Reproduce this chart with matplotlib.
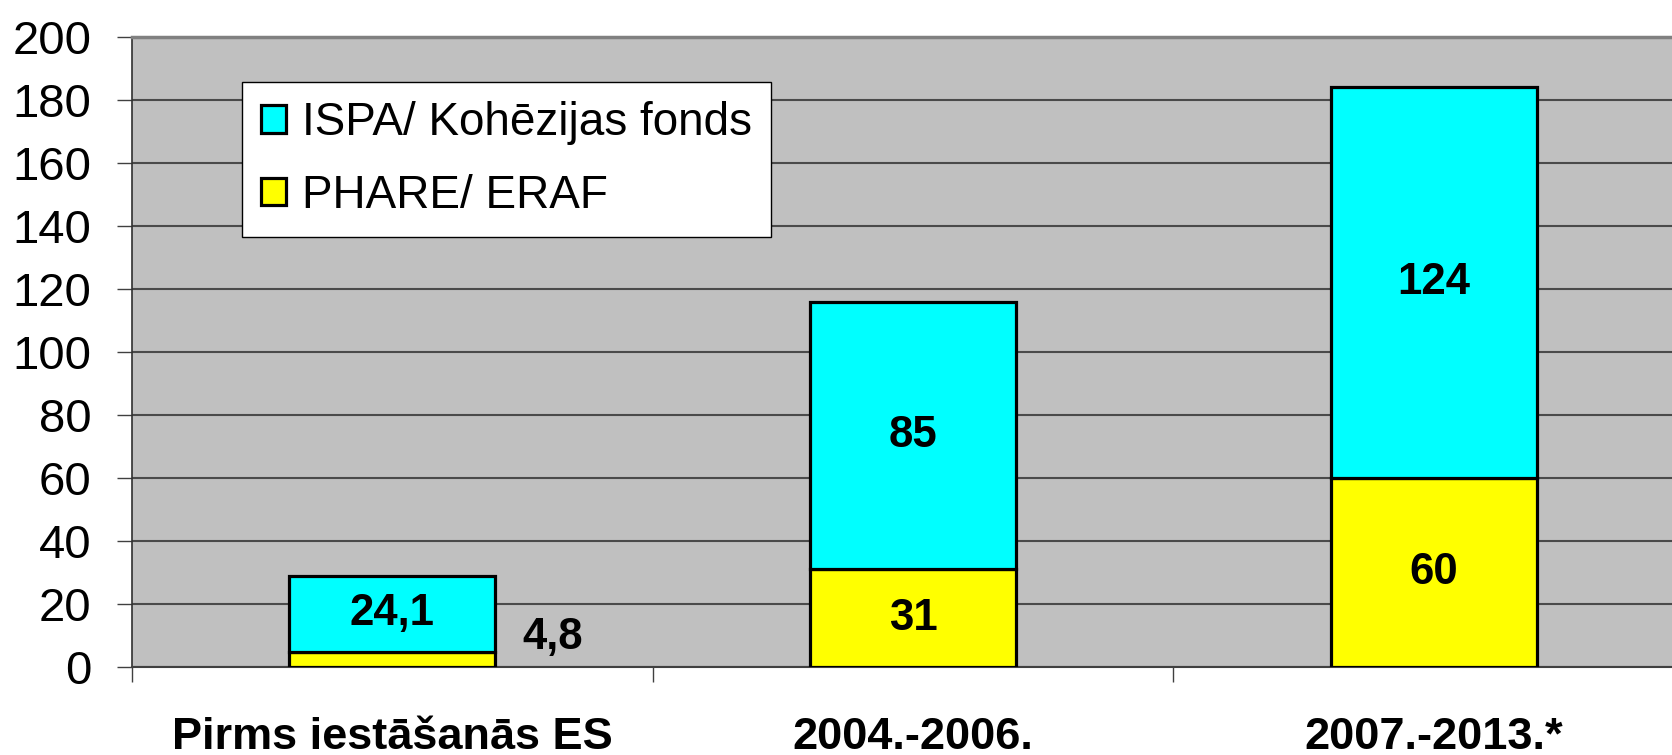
import matplotlib.pyplot as plt
import numpy as np

categories = ["Pirms iestāšanās ES", "2004.-2006.", "2007.-2013.*"]
phare_erf = [4.8, 31, 60]
ispa_kf = [24.1, 85, 124]
phare_labels = ["4,8", "31", "60"]
ispa_labels = ["24,1", "85", "124"]

plt.rcParams['font.family'] = ['Liberation Sans', 'DejaVu Sans']

fig = plt.figure(figsize=(16.72, 7.55), dpi=100)
ax = fig.add_axes([132 / 1672, 88 / 755, 1562 / 1672, 630 / 755])
ax.set_facecolor('#c0c0c0')

x = np.arange(len(categories))
w = 0.396
b1 = ax.bar(x, phare_erf, w, color='#ffff00', edgecolor='black', linewidth=2.3,
            label='PHARE/ ERAF', zorder=3)
b2 = ax.bar(x, ispa_kf, w, bottom=phare_erf, color='#00ffff', edgecolor='black',
            linewidth=2.3, label='ISPA/ Kohēzijas fonds', zorder=3)

# value labels
for i in range(len(categories)):
    ax.text(x[i], phare_erf[i] + ispa_kf[i] / 2, ispa_labels[i], ha='center', va='center',
            fontsize=31.5, fontweight='bold', zorder=4)
    if phare_erf[i] > 15:
        ax.text(x[i], phare_erf[i] / 2, phare_labels[i], ha='center', va='center',
                fontsize=31.5, fontweight='bold', zorder=4)
    else:
        ax.text(x[i] + w / 2 + 0.11, phare_erf[i] + 4.5, phare_labels[i], ha='center',
                va='center', fontsize=31.5, fontweight='bold', zorder=4)

ax.set_xlim(-0.5, 2.5)
ax.set_ylim(0, 200)
ax.set_yticks(np.arange(0, 201, 20))
ax.yaxis.grid(True, color='#4a4a4a', linewidth=1.5, zorder=1)
ax.tick_params(axis='y', labelsize=34, length=11, width=1, color='#404040', pad=18)

ax.set_xticks(x)
ax.set_xticklabels(categories, fontsize=32.5, fontweight='bold')
ax.set_xticks([-0.5, 0.5, 1.5, 2.5], minor=True)
ax.tick_params(axis='x', which='major', length=0, pad=36)
ax.tick_params(axis='x', which='minor', length=11, width=1, color='#404040')

ax.spines['top'].set_color('#808080')
ax.spines['top'].set_linewidth(2.5)
ax.spines['left'].set_color('#303030')
ax.spines['left'].set_linewidth(1.2)
ax.spines['bottom'].set_color('#404040')
ax.spines['bottom'].set_linewidth(1.5)
ax.spines['right'].set_visible(False)

h, l = ax.get_legend_handles_labels()
leg = ax.legend(h[::-1], l[::-1], loc='upper left', bbox_to_anchor=(0.0704, 0.9286),
                fontsize=33, frameon=True, fancybox=False, framealpha=1,
                edgecolor='black', handlelength=0.53, handleheight=0.53,
                handletextpad=0.35, labelspacing=0.63, borderpad=0.42, borderaxespad=0)
leg.get_frame().set_linewidth(1.0)

fig.savefig("out.png", dpi=100)
